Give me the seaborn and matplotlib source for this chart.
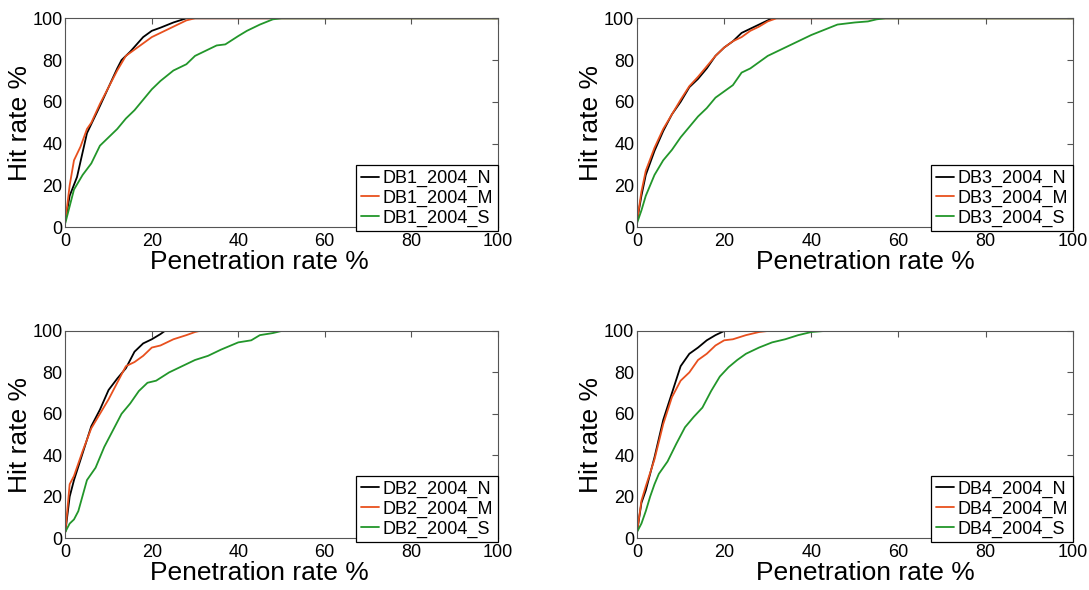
import pandas as pd
import matplotlib.pyplot as plt
import seaborn as sns

sns.set_style("white")
plt.rcParams['font.family'] = ['Liberation Sans', 'DejaVu Sans']
plt.rcParams['text.color'] = 'black'
plt.rcParams['axes.labelcolor'] = 'black'

# valori (penetration rate %, hit rate %)
db1_n_x = [0, 1, 2.7, 5, 8, 10, 12, 13, 15, 18, 20, 22, 25, 28, 100]
db1_n_y = [3, 15, 24, 45, 58, 67, 76, 80, 84, 91, 94, 95.5, 98, 100, 100]
db1_m_x = [0, 1, 2, 3.5, 5, 6, 8, 10, 12, 14, 16, 18, 20, 22, 25, 28, 30, 100]
db1_m_y = [3, 20, 32, 38.5, 47, 50, 59, 67, 75, 82, 85, 88, 91, 93, 96, 99, 100, 100]
db1_s_x = [0, 1, 2, 4, 6, 8, 10, 12, 14, 16, 18, 20, 22, 25, 28, 30, 32, 35, 37, 40, 42, 45, 48, 50, 100]
db1_s_y = [2, 10, 18, 25, 30.5, 39, 43, 47, 52, 56, 61, 66, 70, 75, 78, 82, 84, 87, 87.5, 91.5, 94, 97, 99.5, 100, 100]

db3_n_x = [0, 1, 2, 4, 6, 8, 10, 12, 14, 16, 18, 20, 22, 24, 26, 28, 30, 31, 100]
db3_n_y = [3, 15, 25, 36.5, 46, 54, 60, 67, 71, 76, 82, 86, 89, 93, 95, 97, 99, 100, 100]
db3_m_x = [0, 1, 2, 4, 6, 8, 10, 12, 14, 16, 18, 20, 22, 24, 26, 28, 30, 32, 100]
db3_m_y = [3, 17, 27, 38, 47, 54, 61, 67.5, 72, 77, 82, 86, 89, 91, 94, 96, 98.5, 100, 100]
db3_s_x = [0, 1, 2, 4, 6, 8, 10, 12, 14, 16, 18, 20, 22, 24, 26, 28, 30, 33, 36, 40, 43, 46, 50, 53, 55, 57, 100]
db3_s_y = [2, 8, 15, 25, 32, 37, 43, 48, 53, 57, 62, 65, 68, 74, 76, 79, 82, 85, 88, 92, 94.5, 97, 98, 98.5, 99.5, 100, 100]

db2_n_x = [0, 1, 2, 4, 6, 8, 10, 12, 14, 16, 18, 20, 22, 23, 100]
db2_n_y = [3, 20, 28, 41, 54, 62, 71.5, 77, 82, 90, 94, 96, 98.5, 100, 100]
db2_m_x = [0, 1, 2, 4, 6, 8, 10, 12, 14, 16, 18, 20, 22, 25, 28, 30, 31, 100]
db2_m_y = [3, 26, 30, 42, 53, 60, 67, 75, 83, 85, 88, 92, 93, 96, 98, 99.5, 100, 100]
db2_s_x = [0, 1, 2, 3, 5, 7, 9, 11, 13, 15, 17, 19, 21, 24, 27, 30, 33, 36, 40, 43, 45, 48, 50, 100]
db2_s_y = [3, 7, 9, 13, 28, 34, 44, 52, 60, 65, 71, 75, 76, 80, 83, 86, 88, 91, 94.5, 95.5, 98, 99, 100, 100]

db4_n_x = [0, 1, 2, 4, 6, 8, 10, 12, 14, 16, 18, 20, 100]
db4_n_y = [3, 17, 23, 39, 57, 70, 83, 89, 92, 95.5, 98, 100, 100]
db4_m_x = [0, 1, 2, 4, 6, 8, 10, 12, 14, 16, 18, 20, 22, 25, 28, 30, 100]
db4_m_y = [3, 18, 25, 38, 55, 68, 76, 80, 86, 89, 93, 95.5, 96, 98, 99.5, 100, 100]
db4_s_x = [0, 1, 2, 3, 4, 5, 7, 9, 11, 13, 15, 17, 19, 21, 23, 25, 28, 31, 34, 37, 40, 43, 100]
db4_s_y = [3, 7, 13, 20, 26, 31, 37, 45.5, 53.5, 58.5, 63, 71, 78, 82.5, 86, 89, 92, 94.5, 96, 98, 99.5, 100, 100]

ticks = [0, 20, 40, 60, 80, 100]
colors = ['black', '#E8501E', '#22962A']

panels = [
    ('DB1', [0.060, 0.615, 0.397, 0.354], 0.448, (db1_n_x, db1_n_y), (db1_m_x, db1_m_y), (db1_s_x, db1_s_y)),
    ('DB3', [0.585, 0.615, 0.400, 0.354], 0.525, (db3_n_x, db3_n_y), (db3_m_x, db3_m_y), (db3_s_x, db3_s_y)),
    ('DB2', [0.060, 0.088, 0.397, 0.351], 0.448, (db2_n_x, db2_n_y), (db2_m_x, db2_m_y), (db2_s_x, db2_s_y)),
    ('DB4', [0.585, 0.088, 0.400, 0.351], 0.525, (db4_n_x, db4_n_y), (db4_m_x, db4_m_y), (db4_s_x, db4_s_y)),
]

fig = plt.figure(figsize=(10.89, 5.90), dpi=100)

for name, pos, xlab_pos, n, m, s in panels:
    ax = fig.add_axes(pos)
    frames = []
    for suffix, (x, y) in zip(['N', 'M', 'S'], [n, m, s]):
        frames.append(pd.DataFrame({'x': x, 'y': y, 'serie': f'{name}_2004_{suffix}'}))
    df = pd.concat(frames, ignore_index=True)
    sns.lineplot(data=df, x='x', y='y', hue='serie', palette=colors,
                 sort=False, estimator=None, lw=1.3, ax=ax)

    ax.set_xlim(0, 100)
    ax.set_ylim(0, 100)
    ax.set_xticks(ticks)
    ax.set_yticks(ticks)
    ax.tick_params(direction='in', length=4, width=0.8, top=True, right=True,
                   labelsize=13, pad=2, colors='#555555', labelcolor='black')
    ax.tick_params(axis='x', pad=4)
    for sp in ax.spines.values():
        sp.set_color('#555555')
        sp.set_linewidth(0.8)

    ax.set_xlabel('Penetration rate %', fontsize=19, color='black')
    ax.set_ylabel('Hit rate %', fontsize=19, color='black')
    ax.xaxis.set_label_coords(xlab_pos, -0.11)
    ax.yaxis.set_label_coords(-0.078, 0.5)

    leg = ax.legend(loc='lower right', bbox_to_anchor=(1.0, -0.02), borderaxespad=0,
                    fontsize=13, handlelength=1.0, handletextpad=0.2, labelspacing=0.15,
                    borderpad=0.25, fancybox=False, framealpha=1, labelcolor='black')
    leg.get_frame().set_edgecolor('black')
    leg.get_frame().set_linewidth(0.9)

fig.savefig('out.png', dpi=100)
